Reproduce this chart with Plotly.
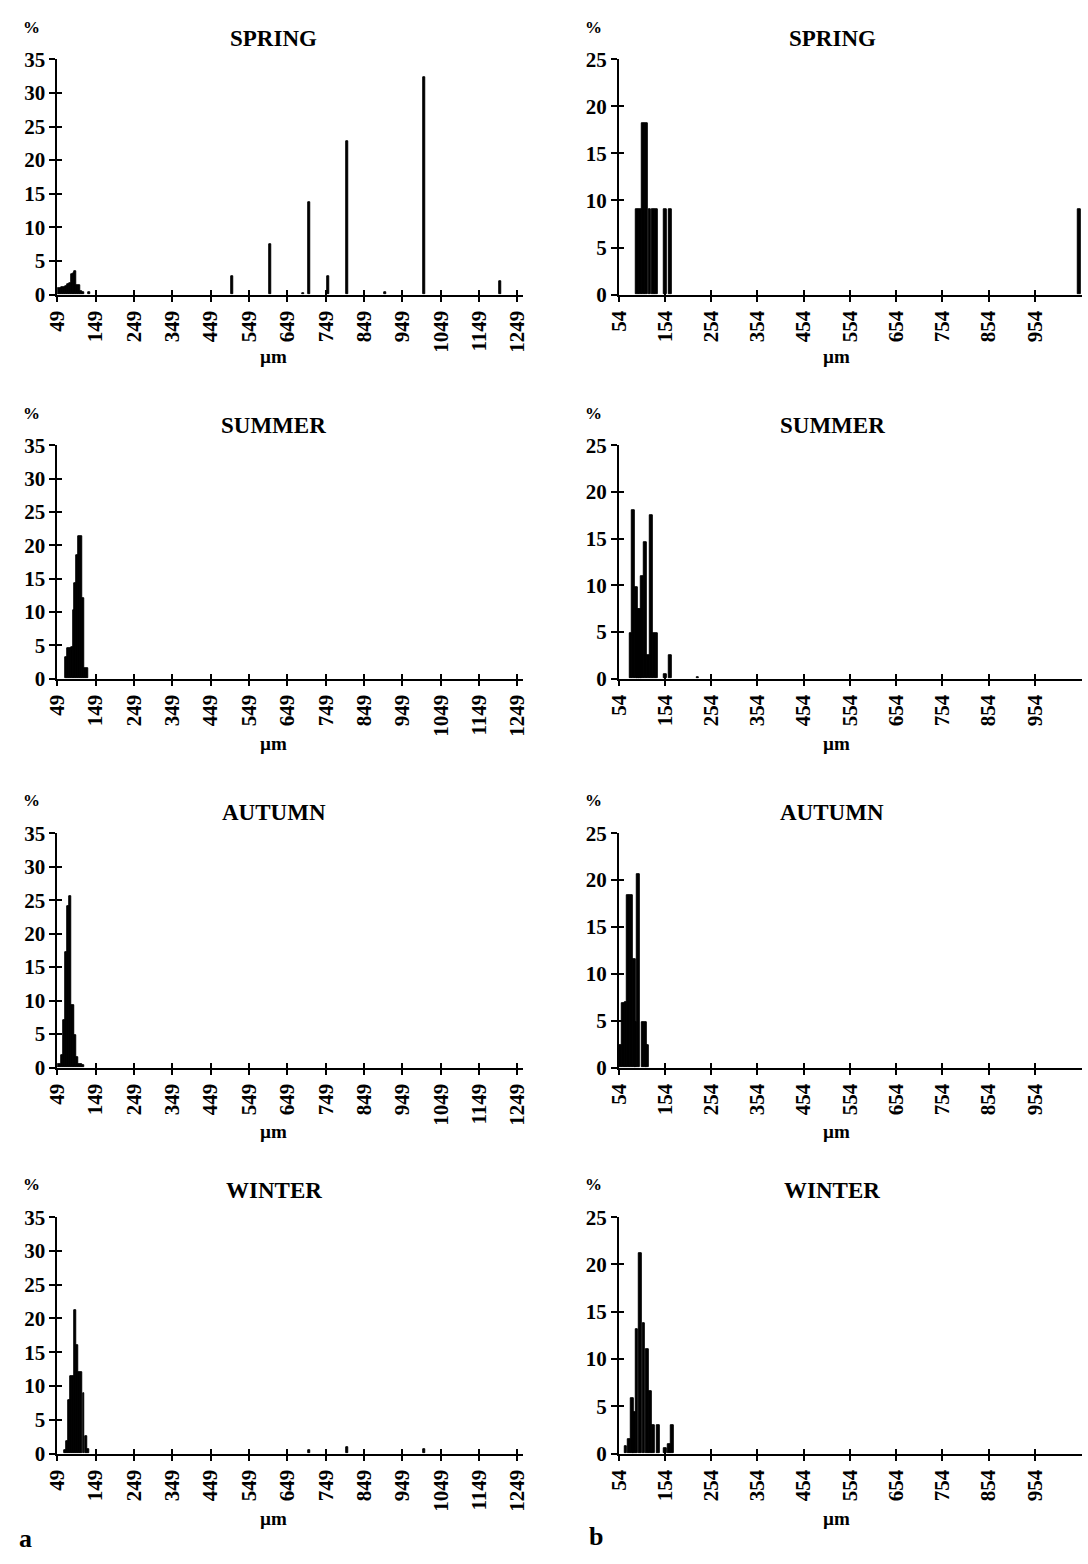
import plotly.graph_objects as go

# ---------------- data ----------------
SEASONS = ["SPRING", "SUMMER", "AUTUMN", "WINTER"]
LEFT_TICKS = [49, 149, 249, 349, 449, 549, 649, 749, 849, 949, 1049, 1149, 1249]
RIGHT_TICKS = [54, 154, 254, 354, 454, 554, 654, 754, 854, 954]
LEFT_Y_TICKS = [0, 5, 10, 15, 20, 25, 30, 35]
RIGHT_Y_TICKS = [0, 5, 10, 15, 20, 25]

# panel a (left column)
spring_a_um = [52, 57, 62, 67, 72, 77, 82, 87, 92, 97, 102, 107, 112, 117, 132,
               505, 605, 690, 705, 755, 805, 905, 1005, 1205]
spring_a_pct = [0.9, 0.9, 1.1, 1.1, 1.3, 1.5, 1.7, 3.0, 3.1, 3.5, 1.4, 1.4, 0.5, 0.3, 0.4,
                2.8, 7.5, 0.2, 13.7, 2.8, 22.8, 0.3, 32.3, 2.0]

summer_a_um = [72, 77, 82, 87, 92, 97, 102, 107, 112, 117, 122, 127]
summer_a_pct = [3.2, 4.5, 4.6, 4.7, 10.2, 14.3, 18.5, 21.4, 21.4, 12.0, 1.6, 1.6]

autumn_a_um = [52, 57, 62, 67, 72, 77, 82, 87, 92, 97, 102, 107, 112, 117]
autumn_a_pct = [0.5, 0.5, 1.9, 7.1, 17.3, 24.1, 25.6, 9.3, 9.3, 4.8, 1.6, 0.5, 0.5, 0.3]

winter_a_um = [71, 76, 81, 86, 91, 97, 102, 107, 112, 118, 124, 130, 705, 805, 1005]
winter_a_pct = [0.5, 1.8, 7.9, 11.5, 11.5, 21.2, 16.0, 12.1, 12.1, 8.9, 2.5, 0.6, 0.5, 0.9, 0.6]

# panel b (right column)
spring_b_um = [94, 100, 107, 114, 121, 128, 135, 155, 166, 1051]
spring_b_pct = [9.09, 9.09, 18.18, 18.18, 9.09, 9.09, 9.09, 9.09, 9.09, 9.09]

summer_b_um = [80, 86, 92, 97, 101, 105, 111, 118, 124, 131, 136, 154, 166, 225]
summer_b_pct = [4.9, 18.0, 9.8, 7.4, 7.4, 11.0, 14.6, 2.5, 17.5, 4.9, 4.9, 0.5, 2.5, 0.2]

autumn_b_um = [57, 63, 69, 75, 81, 87, 91, 96, 106, 111, 116]
autumn_b_pct = [2.4, 6.9, 7.0, 18.4, 18.4, 11.6, 4.8, 20.6, 4.8, 4.8, 2.4]

winter_b_um = [69, 77, 83, 88, 93, 100, 108, 116, 122, 128, 140, 154, 163, 170]
winter_b_pct = [0.8, 1.5, 5.9, 4.4, 13.2, 21.2, 13.8, 11.0, 6.6, 3.0, 3.0, 0.6, 1.0, 3.0]

left_data = [(spring_a_um, spring_a_pct), (summer_a_um, summer_a_pct),
             (autumn_a_um, autumn_a_pct), (winter_a_um, winter_a_pct)]
right_data = [(spring_b_um, spring_b_pct), (summer_b_um, summer_b_pct),
              (autumn_b_um, autumn_b_pct), (winter_b_um, winter_b_pct)]

# ---------------- layout geometry (pixels) ----------------
W, H = 1088, 1564
ROWS_PX = [(48, 287), (440, 677), (834, 1072), (1224, 1464)]
LEFT_PX = (46, 520)
RIGHT_PX = (617, 1088)
LEFT_RANGE = [49, 49 + (LEFT_PX[1] - LEFT_PX[0]) / 0.39]
RIGHT_RANGE = [54, 54 + (RIGHT_PX[1] - RIGHT_PX[0]) / 0.47]

FONT = "Liberation Serif"
tickfont = dict(family=FONT, size=21, color="black", weight="bold")

fig = go.Figure()
layout = dict(width=W, height=H, margin=dict(l=0, r=0, t=0, b=0),
              paper_bgcolor="white", plot_bgcolor="white", showlegend=False,
              bargap=0, barmode="overlay")

def xd(px):
    return [px[0] / W, px[1] / W]

def yd(row):
    t, b = ROWS_PX[row]
    return [1 - b / H, 1 - t / H]

annotations = []
n = 0
for col in range(2):
    for row in range(4):
        n += 1
        m = n + 8
        if col == 0:
            xs, ys = left_data[row]
            xpx, xr, xt, yr, yt, bw = LEFT_PX, LEFT_RANGE, LEFT_TICKS, [0, 35], LEFT_Y_TICKS, 5
        else:
            xs, ys = right_data[row]
            xpx, xr, xt, yr, yt, bw = RIGHT_PX, RIGHT_RANGE, RIGHT_TICKS, [0, 25], RIGHT_Y_TICKS, 6
        fig.add_trace(go.Bar(x=xs, y=ys, width=bw, xaxis=f"x{n}", yaxis=f"y{n}",
                             marker=dict(color="black", line=dict(color="black", width=1)),
                             hoverinfo="x+y"))
        # empty trace for overlay axes that draw inner half of crossing ticks
        fig.add_trace(go.Scatter(x=[], y=[], xaxis=f"x{m}", yaxis=f"y{m}"))
        common_x = dict(domain=xd(xpx), range=xr, tickmode="array", tickvals=xt,
                        showgrid=False, zeroline=False, fixedrange=True)
        common_y = dict(domain=yd(row), range=yr, tickmode="array", tickvals=yt,
                        showgrid=False, zeroline=False, fixedrange=True)
        layout[f"xaxis{n}"] = dict(common_x, anchor=f"y{n}", ticktext=[str(v) for v in xt],
                                   tickangle=-90, tickfont=tickfont, ticks="outside",
                                   ticklen=6, tickwidth=1.5, tickcolor="black",
                                   showline=True, linecolor="black", linewidth=1.5)
        layout[f"yaxis{n}"] = dict(common_y, anchor=f"x{n}", ticktext=[str(v) for v in yt],
                                   tickfont=tickfont, ticks="outside", ticklen=6,
                                   tickwidth=1.5, tickcolor="black",
                                   showline=True, linecolor="black", linewidth=1.5)
        layout[f"xaxis{m}"] = dict(common_x, anchor=f"y{m}", overlaying=f"x{n}",
                                   showticklabels=False, ticks="inside", ticklen=5,
                                   tickwidth=1.5, tickcolor="black", showline=False)
        layout[f"yaxis{m}"] = dict(common_y, anchor=f"x{m}", overlaying=f"y{n}",
                                   showticklabels=False, ticks="inside", ticklen=5,
                                   tickwidth=1.5, tickcolor="black", showline=False)

# ---------------- text annotations ----------------
TITLE_Y = [27, 420, 813, 1197]
PCT_Y = [16, 408, 801, 1191]
UM_Y = [350, 743, 1137, 1530]
TITLE_X = [266, 834]
PCT_X = [20, 591]
UM_X = [266, 838]

def ann(text, xpx, ypx, size, anchor="center"):
    annotations.append(dict(text=text, x=xpx / W, y=1 - ypx / H, xref="paper", yref="paper",
                            showarrow=False, xanchor=anchor, yanchor="middle",
                            font=dict(family=FONT, size=size, color="black", weight="bold")))

for col in range(2):
    for row in range(4):
        ann(SEASONS[row], TITLE_X[col], TITLE_Y[row], 23)
        ann("%", PCT_X[col], PCT_Y[row], 17)
        ann("µm", UM_X[col], UM_Y[row], 19)

ann("a", 14, 1550, 26)
ann("b", 594, 1548, 26)

layout["annotations"] = annotations
fig.update_layout(**layout)
fig.write_html("out.html", config={"displayModeBar": False},
               post_script="document.body.style.margin='0px';document.body.style.overflow='hidden';")
